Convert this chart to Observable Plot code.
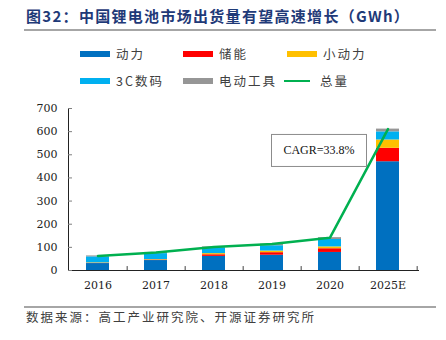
<!DOCTYPE html>
<html><head><meta charset="utf-8">
<script src="https://cdn.jsdelivr.net/npm/d3@7"></script>
<script src="https://cdn.jsdelivr.net/npm/@observablehq/plot@0.6"></script>
<style>
body{margin:0;background:#fff;}
#wrap{position:relative;width:446px;height:340px;overflow:hidden;background:#fff;font-family:"Noto Sans CJK SC",sans-serif;}
#title{position:absolute;left:26px;top:6px;font-size:15px;font-weight:bold;color:#1f3a78;letter-spacing:1.3px;white-space:nowrap;line-height:20px;}
.hr{position:absolute;left:24px;width:412px;height:2px;background:#a6a6a6;}
#legend{position:absolute;left:80px;top:40px;display:grid;grid-template-columns:103px 104px 110px;grid-auto-rows:27px;}
.leg{display:flex;align-items:center;font-size:12.5px;color:#404040;letter-spacing:2px;white-space:nowrap;}
.sw{display:inline-block;width:30px;height:6px;margin-right:6px;}
.sw.line{height:2px;width:26px;margin-left:-3px;margin-right:10px;}
#src{position:absolute;left:26px;top:308px;font-size:12.5px;color:#404040;letter-spacing:2px;white-space:nowrap;line-height:18px;}
#chart{position:absolute;left:0;top:95px;}
</style></head>
<body>
<div id="wrap">
  <div id="title"></div>
  <div class="hr" style="top:29px"></div>
  <div id="legend"></div>
  <div id="chart"></div>
  <div class="hr" style="top:306px;height:1.5px"></div>
  <div id="src"></div>
</div>
<script>
// ---- data ----
const titleText = "图32：中国锂电池市场出货量有望高速增长（GWh）";
const sourceText = "数据来源：高工产业研究院、开源证券研究所";
const years = ["2016", "2017", "2018", "2019", "2020", "2025E"];
const seriesNames = ["动力", "储能", "小动力", "3C数码", "电动工具"];
const seriesColors = ["#0070c0", "#ff0000", "#ffc000", "#00b0f0", "#969696"];
const power   = [30, 43, 61, 66, 78, 470];
const storage = [1, 2, 7, 11, 16, 58];
const smallPw = [2, 2, 5, 7, 8, 36];
const digital = [26, 26, 25, 23, 32, 35];
const tools   = [4, 5, 4, 7, 8, 12];
const totalName = "总量";
const totalColor = "#00b050";
const totals = [63, 78, 102, 114, 142, 611];
const yTicks = [0, 100, 200, 300, 400, 500, 600, 700];
const cagrLabel = "CAGR=33.8%";

// ---- text ----
document.getElementById("title").textContent = titleText;
document.getElementById("src").textContent = sourceText;
const leg = document.getElementById("legend");
const legItems = seriesNames.map((s, i) => ({name: s, color: seriesColors[i], line: false}));
legItems.push({name: totalName, color: totalColor, line: true});
for (const it of legItems) {
  const d = document.createElement("div");
  d.className = "leg";
  const sw = document.createElement("span");
  sw.className = "sw" + (it.line ? " line" : "");
  sw.style.background = it.color;
  d.appendChild(sw);
  d.appendChild(document.createTextNode(it.name));
  leg.appendChild(d);
}

// ---- chart ----
const valuesBySeries = [power, storage, smallPw, digital, tools];
const rows = [];
seriesNames.forEach((s, i) => years.forEach((y, j) => rows.push({year: y, series: s, value: valuesBySeries[i][j]})));
const totalRows = years.map((y, j) => ({year: y, total: totals[j]}));

const W = 446, H = 205, ml = 68, mr = 28, mt = 13, mb = 30;
const step = (W - ml - mr) / years.length;

const chart = Plot.plot({
  width: W, height: H,
  marginLeft: ml, marginRight: mr, marginTop: mt, marginBottom: mb,
  style: {fontFamily: "'DejaVu Serif', serif", fontSize: "11px", color: "#222", background: "transparent"},
  x: {domain: years, paddingInner: 0.6, paddingOuter: 0.3, label: null, tickSize: 0, tickPadding: 11, line: true},
  y: {domain: [0, 700], ticks: yTicks, label: null, tickSize: 0, tickPadding: 11, line: true},
  color: {domain: seriesNames, range: seriesColors},
  marks: [
    Plot.barY(rows, {x: "year", y: "value", fill: "series", order: seriesNames}),
    Plot.tickY(yTicks, {y: d => d, stroke: "#7f7f7f", insetRight: W - ml - mr - 4}),
    Plot.ruleX(years, {x: d => d, dx: step / 2, y1: 0, y2: 17, stroke: "#404040"}),
    Plot.lineY(totalRows, {x: "year", y: "total", stroke: totalColor, strokeWidth: 2.5}),
    Plot.text([cagrLabel], {x: () => "2020", y: () => 518, dx: -11, text: d => d, fontFamily: "'Liberation Serif', serif", fontSize: 12, fill: "#111", className: "cagr"})
  ]
});
document.getElementById("chart").appendChild(chart);

// box behind CAGR label
const t = chart.querySelector(".cagr text");
if (t) {
  const b = t.getBBox();
  const cx = b.x + b.width / 2, cy = b.y + b.height / 2;
  const g = t.parentNode;
  const r = document.createElementNS("http://www.w3.org/2000/svg", "rect");
  r.setAttribute("x", cx - 47.5); r.setAttribute("y", cy - 16);
  r.setAttribute("width", 95); r.setAttribute("height", 32);
  r.setAttribute("fill", "#fff"); r.setAttribute("stroke", "#8c8c8c");
  g.insertBefore(r, t);
  if (t.getAttribute("transform")) r.setAttribute("transform", t.getAttribute("transform"));
}
</script>
</body></html>
